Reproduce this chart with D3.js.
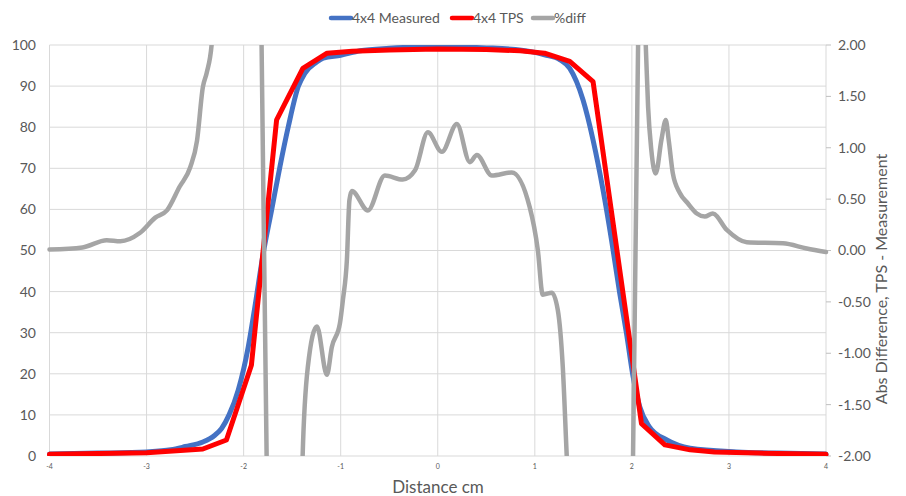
<!DOCTYPE html>
<html>
<head>
<meta charset="utf-8">
<script src="https://cdn.jsdelivr.net/npm/d3@7"></script>
<style>
  body { margin: 0; background: #fff; }
  svg { display: block; font-family: Lato, "Open Sans", sans-serif; }
</style>
</head>
<body>
<div id="chart"></div>
<script>
// 4x4 Measured profile (left axis, %)
var measuredX = [-4.0, -3.5, -3.0, -2.75, -2.6, -2.42, -2.3, -2.227, -2.15, -2.055, -1.952, -1.884, -1.798, -1.712, -1.626, -1.54, -1.437, -1.37, -1.25, -1.18, -1.0, -0.8, -0.5, -0.2, 0.2, 0.5, 0.8, 1.0, 1.1, 1.26, 1.36, 1.497, 1.6, 1.703, 1.79, 1.875, 1.944, 2.012, 2.081, 2.18, 2.36, 2.6, 3.08, 3.5, 4.0];
var measuredY = [0.5, 0.7, 1.0, 1.5, 2.3, 3.4, 5.0, 6.7, 10.0, 16.1, 26.6, 36.3, 49.3, 59.8, 70.4, 80.1, 89.9, 93.1, 95.8, 96.8, 97.5, 98.6, 99.2, 99.5, 99.5, 99.3, 98.9, 98.2, 97.6, 96.4, 94.3, 86.6, 76.9, 64.7, 52.6, 39.6, 29.9, 19.4, 12.0, 7.1, 3.9, 1.9, 1.0, 0.7, 0.5];

// 4x4 TPS profile (left axis, %)
var tpsX = [-4.0, -3.0, -2.42, -2.177, -1.92, -1.66, -1.39, -1.14, -0.88, -0.5, 0.0, 0.5, 0.85, 1.1, 1.36, 1.6, 2.099, 2.34, 2.6, 2.85, 3.3, 4.0];
var tpsY = [0.4, 0.8, 1.7, 3.9, 22.1, 81.8, 94.3, 98.0, 98.5, 98.8, 99.0, 98.9, 98.6, 98.0, 96.0, 91.1, 7.9, 2.7, 1.5, 1.0, 0.7, 0.4];

// %diff (right axis), values beyond +/-2 are cut off by the plot area
var diffX = [-4.0, -3.66, -3.41, -3.27, -3.07, -2.91, -2.79, -2.66, -2.55, -2.48, -2.42, -2.38, -2.33, -2.2, -1.95, -1.815, -1.763, -1.6, -1.45, -1.392, -1.338, -1.245, -1.142, -1.091, -1.008, -0.977, -0.936, -0.91, -0.885, -0.72, -0.545, -0.36, -0.234, -0.102, 0.042, 0.197, 0.331, 0.403, 0.557, 0.763, 0.948, 1.031, 1.082, 1.175, 1.237, 1.288, 1.329, 1.5, 1.9, 2.012, 2.064, 2.10, 2.143, 2.167, 2.20, 2.246, 2.305, 2.349, 2.38, 2.422, 2.494, 2.576, 2.669, 2.751, 2.834, 2.978, 3.184, 3.555, 3.801, 4.0];
var diffY = [0.01, 0.03, 0.10, 0.09, 0.17, 0.32, 0.39, 0.62, 0.81, 1.07, 1.59, 1.73, 2.0, 5.0, 5.0, 2.0, -2.0, -5.0, -5.0, -2.0, -1.13, -0.74, -1.21, -0.94, -0.71, -0.48, -0.09, 0.49, 0.58, 0.39, 0.73, 0.69, 0.78, 1.15, 0.96, 1.23, 0.86, 0.93, 0.73, 0.76, 0.42, 0.005, -0.43, -0.41, -0.58, -1.13, -2.0, -5.0, -5.0, -2.0, 2.0, 3.0, 2.0, 1.40, 0.98, 0.75, 1.08, 1.27, 1.07, 0.75, 0.56, 0.46, 0.36, 0.33, 0.36, 0.20, 0.08, 0.07, 0.02, -0.015];

var xTicks = [-4, -3, -2, -1, 0, 1, 2, 3, 4];
var leftTicks = [0, 10, 20, 30, 40, 50, 60, 70, 80, 90, 100];
var rightTicks = [-2, -1.5, -1, -0.5, 0, 0.5, 1, 1.5, 2];
var seriesNames = ["4x4 Measured", "4x4 TPS", "%diff"];
var seriesColors = ["#4472c4", "#ff0000", "#a5a5a5"];

var W = 906, H = 496;
var plotLeft = 49.5, plotRight = 826, plotTop = 45, plotBottom = 456;

var svg = d3.select("#chart").append("svg")
  .attr("width", W)
  .attr("height", H);

var x = d3.scaleLinear().domain([-4, 4]).range([plotLeft, plotRight]);
var yL = d3.scaleLinear().domain([0, 100]).range([plotBottom, plotTop]);
var yR = d3.scaleLinear().domain([-2, 2]).range([plotBottom, plotTop]);

// gridlines
svg.append("g").selectAll("line")
  .data(leftTicks)
  .enter().append("line")
  .attr("x1", plotLeft).attr("x2", plotRight)
  .attr("y1", function (d) { return yL(d); })
  .attr("y2", function (d) { return yL(d); })
  .attr("stroke", "#d9d9d9").attr("stroke-width", 1);

svg.append("g").selectAll("line")
  .data(xTicks)
  .enter().append("line")
  .attr("x1", function (d) { return x(d); })
  .attr("x2", function (d) { return x(d); })
  .attr("y1", plotTop).attr("y2", plotBottom)
  .attr("stroke", "#d9d9d9").attr("stroke-width", 1);

// right axis tick marks
svg.append("g").selectAll("line")
  .data(rightTicks)
  .enter().append("line")
  .attr("x1", plotRight).attr("x2", plotRight + 5)
  .attr("y1", function (d) { return yR(d); })
  .attr("y2", function (d) { return yR(d); })
  .attr("stroke", "#bfbfbf").attr("stroke-width", 1);

// tick labels
svg.append("g").selectAll("text")
  .data(leftTicks)
  .enter().append("text")
  .attr("x", 36)
  .attr("y", function (d) { return yL(d); })
  .attr("dy", "0.35em")
  .attr("text-anchor", "end")
  .attr("fill", "#595959")
  .style("font-size", "14px")
  .text(function (d) { return d; });

svg.append("g").selectAll("text")
  .data(rightTicks)
  .enter().append("text")
  .attr("x", 838)
  .attr("y", function (d) { return yR(d); })
  .attr("dy", "0.35em")
  .attr("fill", "#595959")
  .style("font-size", "14px")
  .text(function (d) { return d3.format(".2f")(d).replace("−", "-"); });

svg.append("g").selectAll("text")
  .data(xTicks)
  .enter().append("text")
  .attr("x", function (d) { return x(d); })
  .attr("y", 469)
  .attr("text-anchor", "middle")
  .attr("fill", "#595959")
  .style("font-size", "7px")
  .text(function (d) { return d3.format("d")(d).replace("−", "-"); });

// axis titles
svg.append("text")
  .attr("x", 438).attr("y", 493)
  .attr("text-anchor", "middle")
  .attr("fill", "#595959")
  .style("font-size", "17px")
  .text("Distance cm");

svg.append("text")
  .attr("transform", "translate(887,279) rotate(-90)")
  .attr("text-anchor", "middle")
  .attr("fill", "#595959")
  .style("font-size", "16px")
  .text("Abs Difference, TPS - Measurement");

// series
svg.append("clipPath").attr("id", "plotClip")
  .append("rect")
  .attr("x", plotLeft - 4).attr("y", plotTop)
  .attr("width", plotRight - plotLeft + 8).attr("height", plotBottom - plotTop);

var plot = svg.append("g").attr("clip-path", "url(#plotClip)");

var measuredLine = d3.line()
  .x(function (d, i) { return x(measuredX[i]); })
  .y(function (d) { return yL(d); })
  .curve(d3.curveMonotoneX);

var tpsLine = d3.line()
  .x(function (d, i) { return x(tpsX[i]); })
  .y(function (d) { return yL(d); });

var diffLine = d3.line()
  .x(function (d, i) { return x(diffX[i]); })
  .y(function (d) { return yR(d); })
  .curve(d3.curveMonotoneX);

plot.append("path")
  .attr("d", measuredLine(measuredY))
  .attr("fill", "none")
  .attr("stroke", seriesColors[0])
  .attr("stroke-width", 5)
  .attr("stroke-linejoin", "round")
  .attr("stroke-linecap", "round");

plot.append("path")
  .attr("d", tpsLine(tpsY))
  .attr("fill", "none")
  .attr("stroke", seriesColors[1])
  .attr("stroke-width", 5)
  .attr("stroke-linejoin", "round")
  .attr("stroke-linecap", "round");

plot.append("path")
  .attr("d", diffLine(diffY))
  .attr("fill", "none")
  .attr("stroke", seriesColors[2])
  .attr("stroke-width", 4.5)
  .attr("stroke-linejoin", "round")
  .attr("stroke-linecap", "round");

// legend
var legendX = [331, 452, 533];
var legend = svg.append("g").selectAll("g")
  .data(seriesNames)
  .enter().append("g")
  .attr("transform", function (d, i) { return "translate(" + legendX[i] + ",18)"; });

legend.append("line")
  .attr("x1", 0).attr("x2", 20)
  .attr("stroke", function (d, i) { return seriesColors[i]; })
  .attr("stroke-width", 4.5)
  .attr("stroke-linecap", "round");

legend.append("text")
  .attr("x", 21)
  .attr("dy", "0.35em")
  .attr("fill", "#595959")
  .style("font-size", "14px")
  .text(function (d) { return d; });
</script>
</body>
</html>
